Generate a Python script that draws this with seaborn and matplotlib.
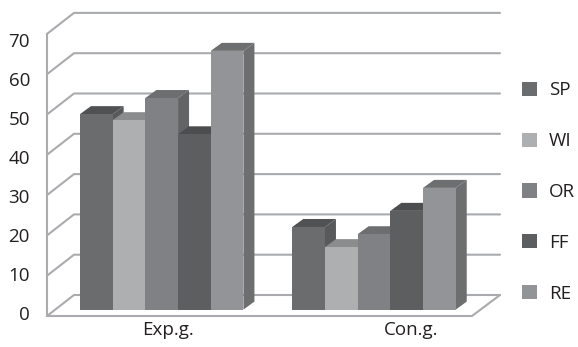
import matplotlib
matplotlib.use("Agg")
import matplotlib.pyplot as plt
from matplotlib.patches import Patch, Polygon
import pandas as pd
import seaborn as sns

groups = ["Exp.g.", "Con.g."]
series = ["SP", "WI", "OR", "FF", "RE"]
sp = [48.5, 20.5]
wi = [47.0, 15.5]
or_ = [52.5, 18.7]
ff = [43.5, 24.5]
re_ = [64.2, 30.2]
y_ticks = [0, 10, 20, 30, 40, 50, 60, 70]

front_cols = ["#6b6c6e", "#aeafb1", "#808184", "#5d5e60", "#939497"]
top_cols = ["#505153", "#8b8c8e", "#6d6e70", "#4c4d4f", "#6d6e70"]
side_cols = ["#58595b", "#8b8c8e", "#636466", "#4c4d4f", "#6d6e70"]
GRID = "#a9abae"
TEXT = "#231f20"

W, H = 578, 347
sns.set_theme(style="white")
plt.rcParams["font.family"] = ["Open Sans", "DejaVu Sans"]
fig = plt.figure(figsize=(W / 100, H / 100), dpi=100, facecolor="white")
ax = fig.add_axes([0, 0, 1, 1])

df = pd.DataFrame({
    "group": groups * len(series),
    "series": [s for s in series for _ in groups],
    "value": sp + wi + or_ + ff + re_,
})
sns.barplot(data=df, x="group", y="value", hue="series", order=groups, hue_order=series,
            palette=front_cols, saturation=1, width=0.77, gap=0, legend=False,
            edgecolor="none", linewidth=0, errorbar=None, ax=ax)

# pixel layout of the bar plane
X0, XS = 161.7, 212.3     # px of first group centre, px per group
Y0, YS = 309.6, 4.03      # px of value 0, px per unit
ax.set_xlim(-X0 / XS, (W - X0) / XS)
ax.set_ylim((Y0 - H) / YS, Y0 / YS)
ax.axis("off")

def dx(px):
    return px / XS

def dy(px):
    return px / YS

def cx(px):
    return (px - X0) / XS

# wall and floor
top_v = y_ticks[-1]
fx_l, fx_r = cx(47), cx(472)      # front edge of the floor
bx_l, bx_r = cx(74), cx(500)      # back edge of the floor
fy = -dy(6.4)                     # front plane offset in value units
by = dy(14.6)                     # back plane offset in value units
lw = 1.5
line = dict(color=GRID, lw=lw, zorder=1, solid_capstyle="round", clip_on=False)
for v in y_ticks:
    ax.plot([fx_l, bx_l, bx_r], [v + fy, v + by, v + by], **line)
ax.plot([fx_l, fx_l], [fy, top_v + fy], **line)
ax.plot([fx_l, fx_r, bx_r], [fy, fy, by], **line)

# depth of each bar: side and top faces built from the bars seaborn drew
ddx, ddy = dx(11), dy(8)
for i, cont in enumerate(ax.containers):
    for bar in cont:
        x, w, h = bar.get_x(), bar.get_width(), bar.get_height()
        ax.add_patch(Polygon([(x + w, 0), (x + w + ddx, ddy), (x + w + ddx, h + ddy), (x + w, h)],
                             closed=True, fc=side_cols[i], ec="none", zorder=10 + 2 * i))
        ax.add_patch(Polygon([(x, h), (x + ddx, h + ddy), (x + w + ddx, h + ddy), (x + w, h)],
                             closed=True, fc=top_cols[i], ec="none", zorder=10 + 2 * i))
        bar.set_zorder(11 + 2 * i)

# tick labels on a transparent overlay
L, R, T, B = 32, 411, 40, 313
lab = fig.add_axes([L / W, 1 - B / H, (R - L) / W, (B - T) / H], facecolor="none")
lab.set_ylim(y_ticks[0], y_ticks[-1])
lab.set_xlim((L - 168) / (R - 168), 1)
lab.set_yticks(y_ticks)
lab.set_xticks([0, 1])
lab.set_xticklabels(groups)
lab.tick_params(axis="both", length=0, labelsize=13.5, labelcolor=TEXT)
lab.tick_params(axis="y", pad=1.5)
lab.tick_params(axis="x", pad=6)
for s in lab.spines.values():
    s.set_visible(False)

handles = [Patch(fc=c, ec="none", label=s) for c, s in zip(front_cols, series)]
ax.legend(handles=handles, loc="center left", bbox_to_anchor=(522 / W, 1 - 192 / H),
          frameon=False, fontsize=13.5, labelcolor=TEXT, handlelength=0.8, handleheight=0.8,
          handletextpad=0.65, labelspacing=1.75, borderpad=0, borderaxespad=0)

fig.savefig("out.png", dpi=100, facecolor="white")
